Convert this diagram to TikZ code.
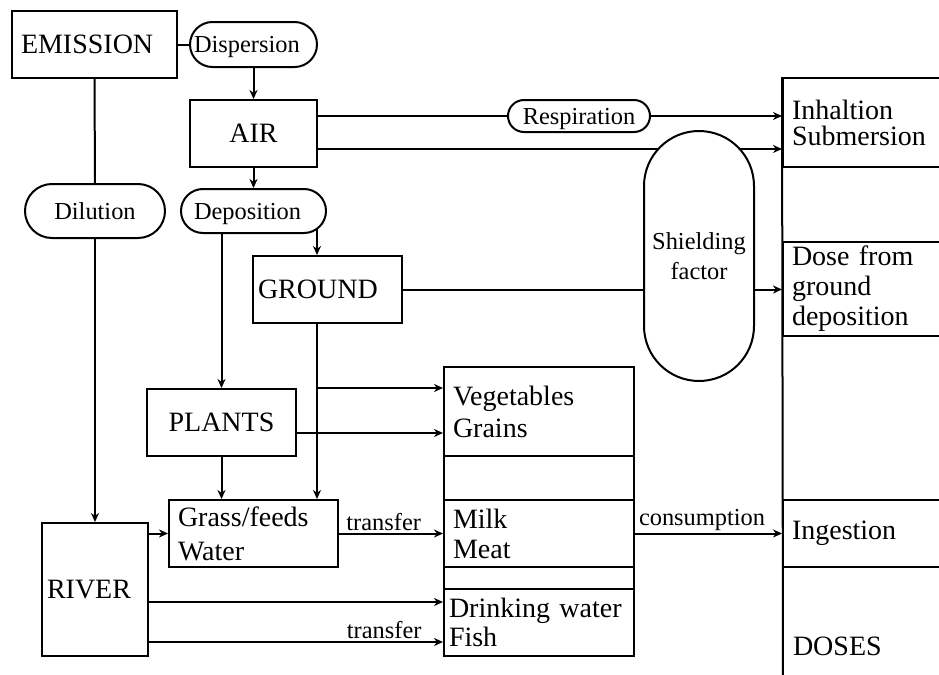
\documentclass[tikz,border=0pt]{standalone}
\usepackage{fontspec}
\setmainfont{Liberation Serif}
\usetikzlibrary{arrows.meta,calc}
\begin{document}
\begin{tikzpicture}[x=0.5pt,y=-0.5pt, line width=1pt,
  big/.style={font=\fontsize{14}{16}\selectfont},
  small/.style={font=\fontsize{12.2}{14}\selectfont},
  box/.style={draw, rectangle, inner sep=0pt, big},
  pill/.style={draw, rectangle, inner sep=0pt, small, text depth=0pt},
  arr/.style={-{Stealth[length=4.5pt,width=4pt]}},
  lbl/.style={small, above, inner sep=1pt}]
\useasboundingbox (0,0) rectangle (939,675);

\node[box, minimum width=82.5pt, minimum height=33.5pt, text width=73.5pt, inner xsep=4.5pt, align=left] (emis) at (94.5,44.5) {EMISSION};
\node[pill, rounded corners=11.25pt, minimum width=63.5pt, minimum height=22.5pt, text width=59.5pt, inner xsep=2pt, align=left] (disp) at (253.5,44.5) {Dispersion};
\node[box, minimum width=63.5pt, minimum height=33.5pt] (air) at (253.5,133.5) {AIR};
\node[pill, rounded corners=11pt, minimum width=72.5pt, minimum height=22pt, text width=59.5pt, inner xsep=6.5pt, align=left] (depo) at (253.5,211) {Deposition};
\node[pill, rounded corners=13.5pt, minimum width=70pt, minimum height=27pt] (dil) at (95,211) {Dilution};
\node[box, minimum width=74.5pt, minimum height=33.5pt, text width=69.5pt, inner xsep=2.5pt, align=left] (ground) at (327.5,289.5) {GROUND};
\node[pill, rounded corners=8pt, minimum width=71pt, minimum height=16pt] (resp) at (579,116) {Respiration};
\node[box, minimum width=74.5pt, minimum height=33.5pt] (plants) at (221.5,422.5) {PLANTS};
\node[box, minimum width=84.5pt, minimum height=33.5pt, text width=75.5pt, inner xsep=4.5pt, align=left, font=\fontsize{14}{17}\selectfont] (grass) at (253.5,533.5) {Grass/feeds\\Water};
\node[box, minimum width=53pt, minimum height=66.5pt, text width=48pt, inner xsep=2.5pt, align=left] (river) at (95,589.5) {RIVER};

% food column
\node[box, minimum width=95pt, minimum height=44.5pt, text width=86pt, inner xsep=4.5pt, align=left] (veg) at (539,411.5) {Vegetables\\Grains};
\node[box, minimum width=95pt, minimum height=22pt] (gapA) at (539,478) {};
\node[box, minimum width=95pt, minimum height=33.5pt, text width=86pt, inner xsep=4.5pt, align=left, font=\fontsize{14}{15}\selectfont] (milk) at (539,533.5) {Milk\\Meat};
\node[box, minimum width=95pt, minimum height=11pt] (gapB) at (539,578) {};
\node[box, minimum width=95pt, minimum height=33.5pt, text width=90pt, inner xsep=2.5pt, align=left, font=\fontsize{14}{14.5}\selectfont] (drink) at (539,622.5) {Drinking water\\Fish};

% doses column
\node[box, minimum width=83.5pt, minimum height=44.5pt, text width=74.5pt, inner xsep=4.5pt, align=left, font=\fontsize{14}{13}\selectfont] (inh) at (866.5,122.5) {Inhaltion\\Submersion};
\node[box, minimum width=83.5pt, minimum height=47pt, text width=74.5pt, inner xsep=4.5pt, align=left, font=\fontsize{14}{15}\selectfont] (dgr) at (866.5,289) {Dose from\\ground\\deposition};
\node[box, minimum width=83.5pt, minimum height=33.5pt, text width=74.5pt, inner xsep=4.5pt, align=left] (ing) at (866.5,533.5) {Ingestion};
\node[big, anchor=west, inner sep=0pt] (doses) at (792,646) {DOSES};
\coordinate (colbot) at (783,680);
\draw (inh.north west) -- (colbot);

% line behind shielding pill
\coordinate (a2) at ($(air.east)+(0,15.5)$);
\draw[arr] (a2) -- (a2 -| inh.west);
\node[pill, rounded corners=27.5pt, minimum width=55pt, minimum height=125pt, align=center, font=\fontsize{12.2}{15}\selectfont, fill=white] (shield) at (699,256) {Shielding\\factor};

% connectors
\draw (emis.east |- disp.west) -- (disp.west);
\draw[arr] (disp) -- (air);
\draw (emis.south) -- (dil.north);
\draw[arr] (dil.south) -- (river.north);
\draw[arr] (air) -- (depo);
\draw[arr] (depo.south -| plants.north) -- (plants.north);
\coordinate (dR) at ($(depo.center)+(63.5,17.7)$);
\draw[arr] (dR) -- (dR |- ground.north);
\draw[arr] (dR |- ground.south) -- (dR |- grass.north);
\coordinate (v1) at ($(veg.north west)+(0,22)$);
\coordinate (v2) at ($(veg.north west)+(0,67)$);
\draw[arr] (dR |- v1) -- (v1);
\draw[arr] (plants.east |- v2) -- (v2);
\draw[arr] (plants.south) -- (plants.south |- grass.north);
\draw[arr] (river.east |- grass.west) -- (grass.west);
\draw[arr] (grass.east) -- node[lbl, pos=0.43]{transfer} (grass.east -| milk.west);
\coordinate (d1) at ($(drink.north west)+(0,14)$);
\coordinate (d2) at ($(drink.north west)+(0,54)$);
\draw[arr] (river.east |- d1) -- (d1);
\draw[arr] (river.east |- d2) -- node[lbl, pos=0.8]{transfer} (d2);
\draw[arr] (milk.east) -- node[lbl, pos=0.456]{consumption} (milk.east -| ing.west);
\draw (air.east |- resp.west) -- (resp.west);
\draw[arr] (resp.east) -- (resp.east -| inh.west);
\draw (ground.east) -- (ground.east -| shield.west);
\draw[arr] (ground.east -| shield.east) -- (ground.east -| inh.west);
\end{tikzpicture}
\end{document}
